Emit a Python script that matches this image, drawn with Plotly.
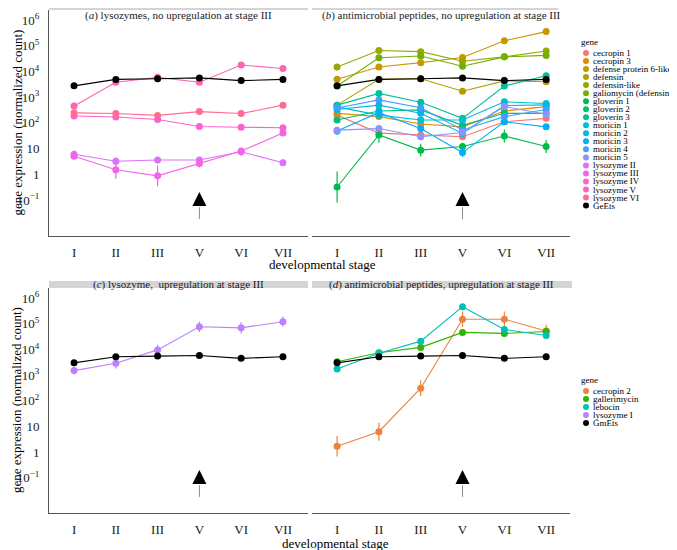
import math
import plotly.graph_objects as go
from plotly.subplots import make_subplots

FONT = "Liberation Serif"
# the page puts the plot 8px in from the top-left corner of a 677x550 window
OFF = 8
W, H = 677 - OFF, 550 - OFF

stages = ["I", "II", "III", "V", "VI", "VII"]

# colour order used for every gene in the study (ggplot hue palette)
gene_order = ["cecropin 1", "cecropin 2", "cecropin 3", "defense protein 6-like", "defensin",
              "defensin-like", "galiomycin (defensin)", "gallerimycin", "gloverin 1", "gloverin 2",
              "gloverin 3", "lebocin", "moricin 1", "moricin 2", "moricin 3", "moricin 4",
              "moricin 5", "lysozyme I", "lysozyme II", "lysozyme III", "lysozyme IV",
              "lysozyme V", "lysozyme VI"]

# reference genes
ge_ets = [2750, 4900, 5200, 5600, 4400, 4900]
gm_ets = [3000, 5200, 5500, 5800, 4500, 5200]

# (a) lysozymes, no upregulation
lyz_2 = [6.0, 3.2, 3.6, 3.6, 7.5, 2.8]
lyz_3 = [5.0, 1.5, 0.87, 2.6, 8.0, 40]
lyz_4 = [185, 170, 135, 72, 68, 65]
lyz_5 = [450, 3800, 5900, 3800, 17800, 13000]
lyz_6 = [245, 230, 195, 275, 230, 490]

# (b) antimicrobial peptides, no upregulation
cec_1 = [200, 40, 34, 29, 110, 150]
cec_3 = [235, 175, 90, 70, 290, 430]
dp6 = [5000, 15000, 22000, 35000, 155000, 355000]
defensin = [490, 5000, 5200, 1700, 4300, 4000]
defensin_like = [15000, 65000, 59000, 25000, 37000, 62000]
galiomycin = [2700, 34000, 40000, 16000, 37000, 42000]
glov_1 = [0.32, 34, 8.7, 12, 31, 12]
glov_2 = [130, 290, 320, 80, 235, 235]
glov_3 = [490, 1400, 630, 150, 2700, 6800]
mor_1 = [420, 200, 130, 130, 660, 570]
mor_2 = [330, 490, 235, 39, 470, 500]
mor_3 = [48, 250, 60, 7, 110, 70]
mor_4 = [380, 780, 390, 53, 175, 330]
mor_5 = [52, 60, 29, 42, 430, 215]

# (c) lysozyme, upregulation
lyz_1 = [1500, 2900, 9600, 76000, 69000, 120000]

# (d) antimicrobial peptides, upregulation
cec_2 = [1.7, 6.3, 310, 150000, 150000, 52000]
gallerimycin = [3300, 7400, 12000, 46000, 42000, 50000]
lebocin = [1740, 7100, 21000, 460000, 60000, 35000]

# error bar half widths in log10 units
err_lyz_2 = [0.15, 0.15, 0.1, 0.1, 0.15, 0.12]
err_lyz_3 = [0.1, 0.35, 0.4, 0.15, 0.12, 0.08]
err_glov_1 = [0.6, 0.3, 0.25, 0.15, 0.25, 0.25]
err_glov_3 = [0.12, 0.1, 0.1, 0.08, 0.1, 0.12]
err_mor_3 = [0.15, 0.1, 0.1, 0.18, 0.1, 0.1]
err_lyz_1 = [0.15, 0.2, 0.2, 0.2, 0.22, 0.2]
err_cec_2 = [0.4, 0.35, 0.3, 0.3, 0.3, 0.25]
err_lebocin = [0.08, 0.05, 0.1, 0.1, 0.05, 0.08]

arrow_stage = "V"
arrow_tip = 10 ** -0.69
arrow_shaft = [10 ** -1.28, 10 ** -1.74]

tick_vals = [1e6, 1e5, 1e4, 1e3, 1e2, 10, 1, 0.1]
tick_text = ["10<sup>6</sup>", "10<sup>5</sup>", "10<sup>4</sup>", "10<sup>3</sup>",
             "10<sup>2</sup>", "10", "1", "10<sup>\u22121</sup>"]


def px(x):
    return (x - OFF) / W


def py(y):
    return 1 - (y - OFF) / H


def hcl(h, c=100.0, l=65.0):
    hr = math.radians(h)
    u, v = c * math.cos(hr), c * math.sin(hr)
    xn, yn, zn = 95.047, 100.0, 108.883
    den = xn + 15 * yn + 3 * zn
    un, vn = 4 * xn / den, 9 * yn / den
    y = yn * ((l + 16) / 116) ** 3
    up, vp = u / (13 * l) + un, v / (13 * l) + vn
    x = y * 9 * up / (4 * vp)
    z = y * (12 - 3 * up - 20 * vp) / (4 * vp)
    x, y, z = x / 100, y / 100, z / 100
    rgb = [3.2404542 * x - 1.5371385 * y - 0.4985314 * z,
           -0.9692660 * x + 1.8760108 * y + 0.0415560 * z,
           0.0556434 * x - 0.2040259 * y + 1.0572252 * z]
    out = []
    for ch in rgb:
        ch = 12.92 * ch if ch <= 0.0031308 else 1.055 * ch ** (1 / 2.4) - 0.055
        out.append(int(round(min(max(ch, 0), 1) * 255)))
    return "#%02X%02X%02X" % tuple(out)


colors = {g: hcl(15 + 360 * i / len(gene_order)) for i, g in enumerate(gene_order)}
colors["GeEts"] = "black"
colors["GmEts"] = "black"

panels = {
    (1, 1): [("lysozyme II", lyz_2, err_lyz_2), ("lysozyme III", lyz_3, err_lyz_3),
             ("lysozyme IV", lyz_4, None), ("lysozyme V", lyz_5, None),
             ("lysozyme VI", lyz_6, None), ("GeEts", ge_ets, None)],
    (1, 2): [("cecropin 1", cec_1, None), ("cecropin 3", cec_3, None),
             ("defense protein 6-like", dp6, None), ("defensin", defensin, None),
             ("defensin-like", defensin_like, None), ("galiomycin (defensin)", galiomycin, None),
             ("gloverin 1", glov_1, err_glov_1), ("gloverin 2", glov_2, None),
             ("gloverin 3", glov_3, err_glov_3), ("moricin 1", mor_1, None),
             ("moricin 2", mor_2, None), ("moricin 3", mor_3, err_mor_3),
             ("moricin 4", mor_4, None), ("moricin 5", mor_5, None), ("GeEts", ge_ets, None)],
    (2, 1): [("lysozyme I", lyz_1, err_lyz_1), ("GmEts", gm_ets, None)],
    (2, 2): [("cecropin 2", cec_2, err_cec_2), ("gallerimycin", gallerimycin, None),
             ("lebocin", lebocin, err_lebocin), ("GmEts", gm_ets, None)],
}

strip_titles = {
    (1, 1): "(<i>a</i>) lysozymes, no upregulation at stage III",
    (1, 2): "(<i>b</i>) antimicrobial peptides, no upregulation at stage III",
    (2, 1): "(<i>c</i>) lysozyme,  upregulation at stage III",
    (2, 2): "(<i>d</i>) antimicrobial peptides, upregulation at stage III",
}

fig = make_subplots(rows=2, cols=2)

# page-pixel geometry of the panels
x_dom = {1: (49, 308), 2: (312, 570)}
x_rng = {1: [-0.6, 5.6], 2: [-0.6, 5.57]}
y_dom = {1: (10, 236), 2: (288, 513)}
y_rng = {1: [-2.40, 6.39], 2: [-2.365, 6.39]}
strip_px = {(1, 1): (49, 308, 8, 10), (1, 2): (312, 558, 8, 10),
            (2, 1): (49, 308, 281, 288), (2, 2): (312, 572, 281, 288)}

annotations = []
shapes = []

for (r, c), series in panels.items():
    for gene, vals, err in series:
        col = colors[gene]
        ey = None
        if err is not None:
            ey = dict(type="data", symmetric=False,
                      array=[v * (10 ** e - 1) for v, e in zip(vals, err)],
                      arrayminus=[v * (1 - 10 ** -e) for v, e in zip(vals, err)],
                      color=col, thickness=1.2, width=0)
        fig.add_trace(go.Scatter(x=stages, y=vals, mode="lines+markers", name=gene,
                                 line=dict(color=col, width=1.1),
                                 marker=dict(color=col, size=7),
                                 error_y=ey, showlegend=False), row=r, col=c)
    # arrow marking stage V: grey shaft + black head
    fig.add_trace(go.Scatter(x=[arrow_stage, arrow_stage], y=arrow_shaft, mode="lines",
                             line=dict(color="#8c8c8c", width=1),
                             showlegend=False, hoverinfo="skip"), row=r, col=c)
    fig.add_trace(go.Scatter(x=[arrow_stage], y=[arrow_tip], mode="markers",
                             marker=dict(symbol="arrow-up", size=14, color="black"),
                             showlegend=False, hoverinfo="skip"), row=r, col=c)
    # strip
    x0, x1, y0, y1 = strip_px[(r, c)]
    shapes.append(dict(type="rect", xref="paper", yref="paper", x0=px(x0), x1=px(x1),
                       y0=py(y1), y1=py(y0), fillcolor="#D4D4D4",
                       line=dict(width=0), layer="below"))
    if r == 1:
        pos = dict(y=1.0, yanchor="top")
    else:
        pos = dict(y=py(284.5), yanchor="middle")
    annotations.append(dict(x=px((x_dom[c][0] + x_dom[c][1]) / 2), xref="paper", yref="paper",
                            text=strip_titles[(r, c)], showarrow=False, xanchor="center",
                            borderpad=0,
                            font=dict(family=FONT, size=11, color="#1a1a1a"), **pos))

    fig.update_xaxes(type="category", categoryorder="array", categoryarray=stages,
                     range=x_rng[c], domain=[px(x_dom[c][0]), px(x_dom[c][1])],
                     showline=True, linecolor="#555555", linewidth=1, mirror=False,
                     showgrid=False, zeroline=False, ticks="", ticklabelstandoff=4,
                     tickfont=dict(family=FONT, size=13, color="#1a1a1a"),
                     row=r, col=c)
    fig.update_yaxes(type="log", range=y_rng[r],
                     domain=[py(y_dom[r][1]), py(y_dom[r][0])],
                     tickvals=tick_vals, ticktext=tick_text,
                     showticklabels=(c == 1), showline=(c == 1),
                     linecolor="#555555", linewidth=1, showgrid=False, zeroline=False,
                     ticks="", ticklabelstandoff=6,
                     tickfont=dict(family=FONT, size=13, color="#1a1a1a"),
                     row=r, col=c)

# axis titles
for r, xc, ty in ((1, 322, 264), (2, 335, 543)):
    annotations.append(dict(x=px(xc), y=py(ty), xref="paper", yref="paper",
                            text="developmental stage", showarrow=False,
                            xanchor="center", yanchor="middle", borderpad=0,
                            font=dict(family=FONT, size=13, color="black")))
    annotations.append(dict(x=0, y=py((y_dom[r][0] + y_dom[r][1]) / 2),
                            xref="paper", yref="paper", text="gene expression (normalized count)",
                            showarrow=False, textangle=-90, xanchor="left", yanchor="middle",
                            borderpad=0,
                            font=dict(family=FONT, size=13, color="black")))

# hand-built legends (plotly's own legend rows are too tall for this layout)
legend_top = [g for g, _, _ in panels[(1, 2)] if g != "GeEts"] + \
             ["lysozyme II", "lysozyme III", "lysozyme IV", "lysozyme V", "lysozyme VI", "GeEts"]
legend_bottom = ["cecropin 2", "gallerimycin", "lebocin", "lysozyme I", "GmEts"]

for names, title_y in ((legend_top, 42), (legend_bottom, 380)):
    annotations.append(dict(x=px(580), y=py(title_y), xref="paper", yref="paper",
                            text="gene", showarrow=False, xanchor="left", yanchor="middle",
                            borderpad=0,
                            font=dict(family=FONT, size=9, color="black")))
    for i, g in enumerate(names):
        yy = title_y + 11 + 8.03 * i
        shapes.append(dict(type="circle", xref="paper", yref="paper",
                           xsizemode="pixel", ysizemode="pixel",
                           xanchor=px(586), yanchor=py(yy),
                           x0=-3, x1=3, y0=-3, y1=3,
                           fillcolor=colors[g], line=dict(width=0)))
        annotations.append(dict(x=px(591.5), y=py(yy), xref="paper", yref="paper",
                                text=g, showarrow=False, xanchor="left", yanchor="middle",
                                borderpad=0,
                                font=dict(family=FONT, size=9, color="black")))

fig.update_layout(width=W, height=H, margin=dict(l=0, r=0, t=0, b=0),
                  paper_bgcolor="white", plot_bgcolor="white",
                  annotations=annotations, shapes=shapes,
                  font=dict(family=FONT, color="black"))

fig.write_html("out.html")
